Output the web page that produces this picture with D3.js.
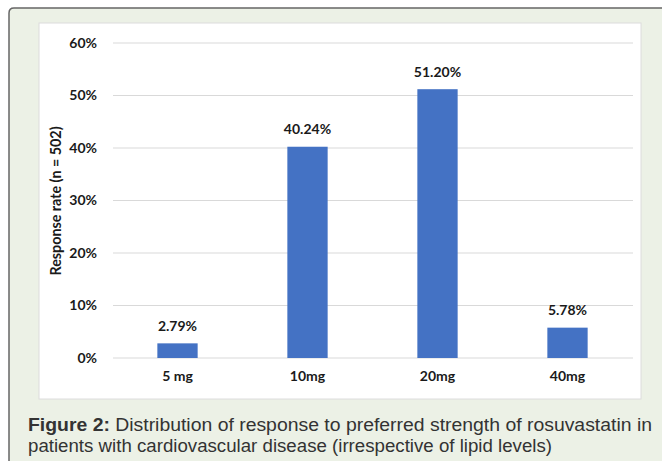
<!DOCTYPE html>
<html><head><meta charset="utf-8">
<script src="https://cdn.jsdelivr.net/npm/d3@7"></script>
<style>html,body{margin:0;padding:0;background:#fff;}svg{display:block;}</style>
</head><body>
<script>
const categories = ["5 mg", "10mg", "20mg", "40mg"];
const values = [2.79, 40.24, 51.20, 5.78];
const valueLabels = ["2.79%", "40.24%", "51.20%", "5.78%"];
const yTicks = [0, 10, 20, 30, 40, 50, 60];
const yTitle = "Response rate (n = 502)";
const captionBold = "Figure 2:";
const captionLine1 = " Distribution of response to preferred strength of rosuvastatin in";
const captionLine2 = "patients with cardiovascular disease (irrespective of lipid levels)";

const W = 662, H = 461;
const svg = d3.select("body").append("svg").attr("width", W).attr("height", H);
const chartFont = "Lato, 'Open Sans', sans-serif";
const fs = 14;

// outer panel
svg.append("path")
  .attr("d", "M9,470 L9,13 Q9,8 14,8 L700,8 L700,470 Z")
  .attr("fill", "#ecf1e6").attr("stroke", "#666").attr("stroke-width", 1.5);

// white chart area
svg.append("rect").attr("x", 39).attr("y", 23).attr("width", 602).attr("height", 376)
  .attr("fill", "#fff").attr("stroke", "#dcdcdc").attr("stroke-width", 1);

const x = d3.scaleBand().domain(categories).range([112.5, 632.5]).paddingInner(0.69).paddingOuter(0.345);
const y = d3.scaleLinear().domain([0, 60]).range([358, 43]);

// gridlines
svg.append("g").selectAll("line").data(yTicks).join("line")
  .attr("x1", 113).attr("x2", 633)
  .attr("y1", d => y(d)).attr("y2", d => y(d))
  .attr("stroke", "#d9d9d9").attr("stroke-width", 1);

// y axis tick labels
const yAxis = d3.axisLeft(y).tickValues(yTicks).tickFormat(d => d + "%").tickSize(0).tickPadding(0);
const gy = svg.append("g").attr("transform", "translate(97,0)").call(yAxis);
gy.select(".domain").remove();
gy.selectAll("text").attr("font-family", chartFont).attr("font-size", fs).attr("font-weight", "bold").attr("fill", "#1a1a1a");

// bars
svg.append("g").selectAll("rect").data(values).join("rect")
  .attr("x", (d, i) => x(categories[i]))
  .attr("width", x.bandwidth())
  .attr("y", d => y(d))
  .attr("height", d => y(0) - y(d))
  .attr("fill", "#4472c4");

// value labels
svg.append("g").selectAll("text").data(values).join("text")
  .attr("x", (d, i) => x(categories[i]) + x.bandwidth() / 2)
  .attr("y", d => y(d) - 12.5)
  .attr("text-anchor", "middle")
  .attr("font-family", chartFont).attr("font-size", fs).attr("font-weight", "bold").attr("fill", "#1a1a1a")
  .text((d, i) => valueLabels[i]);

// x axis labels
const xAxis = d3.axisBottom(x).tickSize(0).tickPadding(0);
const gx = svg.append("g").attr("transform", "translate(0,371.5)").call(xAxis);
gx.select(".domain").remove();
gx.selectAll("text").attr("font-family", chartFont).attr("font-size", fs).attr("font-weight", "bold").attr("fill", "#1a1a1a");

// y title
svg.append("text")
  .attr("transform", "translate(61,201) rotate(-90)")
  .attr("text-anchor", "middle")
  .attr("font-family", chartFont).attr("font-size", 14.3).attr("font-weight", "bold").attr("fill", "#1a1a1a")
  .text(yTitle);

// caption
const capFont = "'Liberation Sans Narrow', 'Arial Narrow', 'Liberation Sans', sans-serif";
const t1 = svg.append("text").attr("x", 28).attr("y", 431)
  .attr("font-family", capFont).attr("font-size", 17.5).attr("fill", "#333")
  .attr("textLength", 624).attr("lengthAdjust", "spacingAndGlyphs");
t1.append("tspan").attr("font-weight", "bold").text(captionBold);
t1.append("tspan").text(captionLine1);
svg.append("text").attr("x", 28).attr("y", 452)
  .attr("font-family", capFont).attr("font-size", 17.5).attr("fill", "#333")
  .attr("textLength", 524).attr("lengthAdjust", "spacingAndGlyphs")
  .text(captionLine2);
</script>
</body></html>
